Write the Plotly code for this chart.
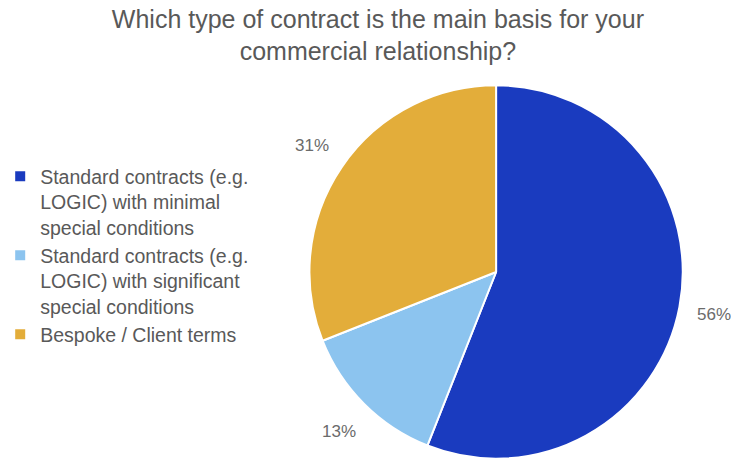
import math
import plotly.graph_objects as go

labels = [
    "Standard contracts (e.g.<br>LOGIC) with minimal<br>special conditions",
    "Standard contracts (e.g.<br>LOGIC) with significant<br>special conditions",
    "Bespoke / Client terms",
]
shares = [56, 13, 31]
colors = ["#1a3bbf", "#8cc4ef", "#e3ad3a"]

W, H = 731, 462
cx, cy, r = 492.5, 272, 189.5   # pie centre and radius in pixels (from top-left)
label_r = 1.19 * r               # distance of the percentage labels from the centre

fig = go.Figure(
    go.Pie(
        labels=labels,
        values=shares,
        sort=False,
        direction="clockwise",
        rotation=0,
        marker=dict(colors=colors, line=dict(color="white", width=2)),
        textinfo="none",
        hoverinfo="label+percent",
        domain=dict(
            x=[(cx - r) / W, (cx + r) / W],
            y=[(H - cy - r) / H, (H - cy + r) / H],
        ),
    )
)

# percentage labels placed outside each slice, at the slice's mid angle
total = sum(shares)
start = 0.0
for v in shares:
    mid = (start + v / 2) / total * 2 * math.pi   # clockwise from 12 o'clock
    start += v
    px = cx + label_r * math.sin(mid)
    py = cy - label_r * math.cos(mid)
    fig.add_annotation(
        x=px / W, y=1 - py / H, xref="paper", yref="paper",
        text=f"{v}%", showarrow=False,
        xanchor="center", yanchor="middle",
        font=dict(size=17, color="#6b6b6b"),
    )

fig.update_layout(
    width=W,
    height=H,
    margin=dict(l=0, r=0, t=0, b=0),
    paper_bgcolor="white",
    plot_bgcolor="white",
    font=dict(family="Liberation Sans, Arial, sans-serif", color="#595959"),
    title=dict(
        text="Which type of contract is the main basis for your<br>commercial relationship?",
        x=0.517,
        xanchor="center",
        y=0.94,
        yanchor="top",
        font=dict(size=25, color="#595959"),
    ),
    showlegend=True,
    legend=dict(
        x=-0.015,
        y=0.66,
        xanchor="left",
        yanchor="top",
        valign="top",
        font=dict(size=19.5, color="#595959"),
        itemwidth=30,
        bgcolor="rgba(0,0,0,0)",
    ),
)

fig.write_html("out.html")
